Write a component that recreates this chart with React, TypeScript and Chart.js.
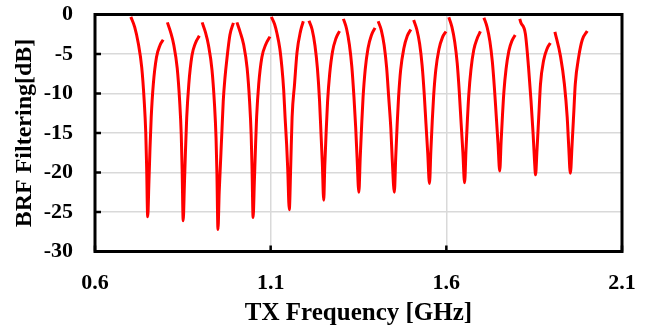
import React, { useEffect, useRef } from "react";
import { Chart, registerables } from "chart.js";

Chart.register(...registerables);

// TX frequency in GHz; null separates the notch segments
const freqGHz: (number | null)[] = [
  0.702, 0.713, 0.723, 0.733, 0.74, 0.7445, 0.747, 0.75, 0.7535, 0.7565, 0.76, 0.766, 0.775, 0.785, 0.794, null,
  0.806, 0.815, 0.824, 0.834, 0.841, 0.8455, 0.848, 0.851, 0.8545, 0.8575, 0.861, 0.867, 0.876, 0.886, 0.897, null,
  0.905, 0.914, 0.923, 0.933, 0.94, 0.9445, 0.947, 0.95, 0.9535, 0.956, 0.961, 0.965, 0.97, 0.975, 0.984, 0.994, null,
  1.004, 1.013, 1.023, 1.033, 1.04, 1.0445, 1.047, 1.05, 1.0535, 1.0565, 1.06, 1.066, 1.075, 1.086, 1.098, null,
  1.102, 1.111, 1.118, 1.126, 1.132, 1.137, 1.141, 1.1455, 1.1485, 1.153, 1.157, 1.161, 1.168, 1.175, 1.185, 1.193, null,
  1.209, 1.218, 1.226, 1.233, 1.239, 1.243, 1.247, 1.251, 1.254, 1.258, 1.262, 1.268, 1.276, 1.286, 1.296, null,
  1.307, 1.316, 1.324, 1.331, 1.337, 1.342, 1.346, 1.351, 1.355, 1.359, 1.363, 1.369, 1.377, 1.387, 1.397, null,
  1.406, 1.415, 1.423, 1.43, 1.436, 1.442, 1.446, 1.452, 1.456, 1.46, 1.464, 1.47, 1.479, 1.489, 1.499, null,
  1.507, 1.516, 1.524, 1.531, 1.537, 1.542, 1.547, 1.552, 1.556, 1.56, 1.564, 1.57, 1.579, 1.589, 1.599, null,
  1.607, 1.616, 1.624, 1.631, 1.637, 1.642, 1.647, 1.652, 1.656, 1.66, 1.664, 1.67, 1.678, 1.688, 1.697, null,
  1.707, 1.716, 1.724, 1.731, 1.737, 1.742, 1.747, 1.752, 1.756, 1.76, 1.764, 1.77, 1.778, 1.787, 1.796, null,
  1.809, 1.812, 1.825, 1.834, 1.841, 1.847, 1.851, 1.854, 1.858, 1.863, 1.868, 1.877, 1.887, 1.896, null,
  1.909, 1.925, 1.936, 1.944, 1.948, 1.953, 1.958, 1.963, 1.967, 1.977, 1.987, 2.001,
];

// BRF filtering in dB, aligned with freqGHz
const brfDb: (number | null)[] = [
  -0.3, -1.6, -3.6, -6.7, -10.9, -15, -19.4, -25.6, -21.2, -17, -13, -8.8, -5.4, -3.9, -3.2, null,
  -1.0, -2.2, -3.8, -6.8, -11, -15.2, -19.6, -26.1, -21.5, -17.3, -13.1, -8.8, -5.2, -3.6, -2.7, null,
  -1.0, -2.2, -3.9, -7, -11.3, -15.6, -20, -27.2, -22.5, -20, -15, -11, -8, -5.8, -2.6, -1.05, null,
  -1.0, -2.2, -3.8, -6.8, -11, -15.2, -19.5, -25.7, -21.3, -17.2, -13, -8.8, -5.4, -3.8, -2.8, null,
  -0.3, -1.2, -2.4, -4.3, -6.7, -9.5, -13, -16.5, -19.5, -24.7, -19.3, -13, -8.8, -4.8, -2.1, -0.85, null,
  -0.8, -1.9, -3.9, -6.8, -10.8, -14.8, -18.8, -23.5, -19.2, -14.8, -11, -7.5, -4.7, -3, -2.1, null,
  -0.55, -1.8, -3.8, -6.6, -10.4, -14.3, -18.2, -22.5, -18, -14, -10.5, -7, -4.3, -2.6, -1.7, null,
  -0.85, -2, -3.9, -6.7, -10.5, -14.4, -18.3, -22.5, -18, -14, -10.5, -7, -4.3, -2.7, -1.9, null,
  -0.7, -1.9, -3.7, -6.4, -10, -13.8, -17.5, -21.4, -17.2, -13.4, -10.2, -7, -4.4, -2.9, -2.15, null,
  -0.35, -1.6, -3.5, -6.2, -9.9, -13.7, -17.4, -21.3, -17.1, -13.3, -10.1, -7, -4.5, -3, -2.15, null,
  -0.4, -1.6, -3.4, -6, -9.4, -12.8, -16.3, -19.8, -16, -12.6, -9.7, -6.9, -4.6, -3.3, -2.6, null,
  -0.55, -1.0, -2.45, -6.7, -10.9, -15.1, -18.5, -20.3, -17.2, -13, -8.8, -5.8, -4.3, -3.6, null,
  -2.2, -5.3, -8.8, -13, -16.4, -20.1, -16.4, -12.2, -8.8, -5.3, -3.2, -2.1,
];

const xTickValues = [0.6, 1.1, 1.6, 2.1];
const yMin = -30;
const yMax = 0;
const yStep = 5;
const xTitle = "TX Frequency [GHz]";
const yTitle = "BRF Filtering[dB]";

const FONT = "'Liberation Serif', 'Times New Roman', serif";

const framePlugin = {
  id: "frame",
  afterDatasetsDraw(chart: any) {
    const { ctx, chartArea, scales } = chart;
    const { left, top, right, bottom } = chartArea;
    ctx.save();
    ctx.strokeStyle = "#000";
    ctx.lineWidth = 2.5;
    ctx.beginPath();
    scales.y.ticks.forEach((_t: any, i: number) => {
      const y = scales.y.getPixelForTick(i);
      ctx.moveTo(left, y);
      ctx.lineTo(left + 6, y);
    });
    scales.x.ticks.forEach((_t: any, i: number) => {
      const x = scales.x.getPixelForTick(i);
      ctx.moveTo(x, bottom);
      ctx.lineTo(x, bottom - 6);
    });
    ctx.stroke();
    ctx.lineWidth = 3;
    ctx.strokeRect(left, top, right - left, bottom - top);
    ctx.restore();
  },
};

function buildSegments() {
  const segs: { x: number; y: number }[][] = [];
  let cur: { x: number; y: number }[] = [];
  freqGHz.forEach((f, i) => {
    const v = brfDb[i];
    if (f === null || v === null) {
      if (cur.length) segs.push(cur);
      cur = [];
    } else {
      cur.push({ x: f, y: v });
    }
  });
  if (cur.length) segs.push(cur);
  return segs;
}

export default function App() {
  const canvasRef = useRef<HTMLCanvasElement | null>(null);

  useEffect(() => {
    document.body.style.margin = "0";
    const canvas = canvasRef.current;
    if (!canvas) return;
    const segs = buildSegments();
    const chart = new Chart(canvas, {
      type: "line",
      data: {
        datasets: segs.map((s) => ({
          data: s,
          borderColor: "#ff0000",
          backgroundColor: "#ff0000",
          borderWidth: 3,
          pointRadius: 0,
          fill: false,
          cubicInterpolationMode: "monotone" as const,
        })),
      },
      options: {
        responsive: false,
        animation: false,
        devicePixelRatio: 1,
        layout: { padding: { left: 0, top: 14.5, right: 30, bottom: 0 } },
        plugins: { legend: { display: false }, tooltip: { enabled: false } },
        scales: {
          x: {
            type: "linear",
            min: xTickValues[0],
            max: xTickValues[xTickValues.length - 1],
            afterBuildTicks: (scale: any) => {
              scale.ticks = xTickValues.map((v) => ({ value: v }));
            },
            afterFit: (scale: any) => {
              scale.height = 76.5;
              scale.paddingLeft = 0;
              scale.paddingRight = 0;
              scale.paddingTop = 0;
              scale.paddingBottom = 0;
            },
            grid: { color: "#d9d9d9", lineWidth: 1.5, drawTicks: false },
            border: { display: false },
            ticks: {
              padding: 19,
              color: "#000",
              font: { family: FONT, size: 22, weight: "bold" },
              callback: (v: any) => Number(v).toFixed(1),
              maxRotation: 0,
            },
            title: {
              display: true,
              text: xTitle,
              color: "#000",
              font: { family: FONT, size: 25, weight: "bold" },
              padding: { top: 0, bottom: -1 },
            },
          },
          y: {
            type: "linear",
            min: yMin,
            max: yMax,
            afterFit: (scale: any) => {
              scale.width = 95;
              scale.paddingTop = 0;
              scale.paddingBottom = 0;
              scale.paddingLeft = 0;
              scale.paddingRight = 0;
            },
            grid: { color: "#d9d9d9", lineWidth: 1.5, drawTicks: false },
            border: { display: false },
            ticks: {
              stepSize: yStep,
              padding: 22,
              color: "#000",
              font: { family: FONT, size: 22, weight: "bold" },
            },
            title: {
              display: true,
              text: yTitle,
              color: "#000",
              font: { family: FONT, size: 24, weight: "bold" },
              padding: { top: 10, bottom: 0 },
            },
          },
        },
      },
      plugins: [framePlugin],
    });
    return () => chart.destroy();
  }, []);

  return (
    <div style={{ width: 652, height: 328 }}>
      <canvas ref={canvasRef} width={652} height={328} style={{ width: 652, height: 328, display: "block" }} />
    </div>
  );
}
